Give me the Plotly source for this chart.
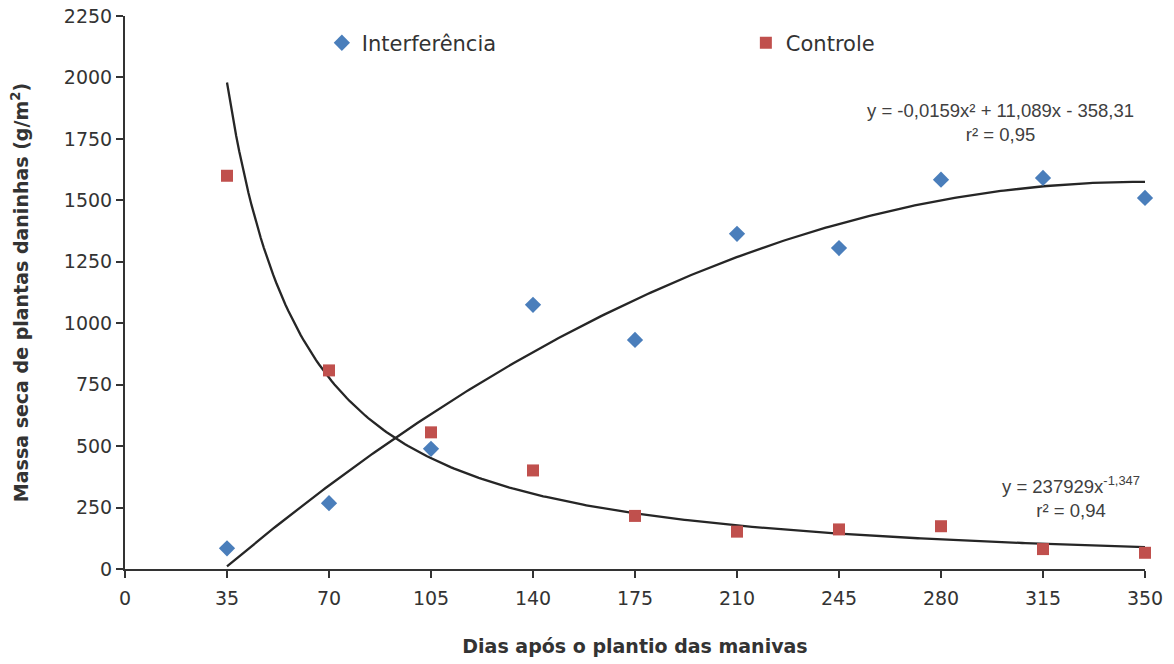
import numpy as np
import plotly.graph_objects as go

# Data
dias = [35, 70, 105, 140, 175, 210, 245, 280, 315, 350]
interferencia = [84, 268, 489, 1075, 932, 1364, 1306, 1584, 1591, 1510]
controle = [1600, 808, 556, 401, 216, 152, 161, 174, 81, 66]

# Trendline equations shown on the chart
quad_coef = [-0.0159, 11.089, -358.31]   # y = a x^2 + b x + c
pow_coef = [237929, -1.347]              # y = k x^p

x_tick_vals = [0, 35, 70, 105, 140, 175, 210, 245, 280, 315, 350]
y_tick_vals = [0, 250, 500, 750, 1000, 1250, 1500, 1750, 2000, 2250]

xfit = np.linspace(35, 350, 300)
yquad = quad_coef[0] * xfit**2 + quad_coef[1] * xfit + quad_coef[2]
ypow = pow_coef[0] * xfit**pow_coef[1]

fig = go.Figure()
fig.add_trace(go.Scatter(x=xfit, y=yquad, mode="lines", line=dict(color="#262626", width=2.3),
                         showlegend=False, hoverinfo="skip", cliponaxis=False))
fig.add_trace(go.Scatter(x=xfit, y=ypow, mode="lines", line=dict(color="#262626", width=2.3),
                         showlegend=False, hoverinfo="skip", cliponaxis=False))
fig.add_trace(go.Scatter(x=dias, y=interferencia, mode="markers", name="Interferência",
                         marker=dict(symbol="diamond", size=12.5, color="#4A7EBB"), cliponaxis=False))
fig.add_trace(go.Scatter(x=dias, y=controle, mode="markers", name="Controle",
                         marker=dict(symbol="square", size=12, color="#C0504D"), cliponaxis=False))

eq_font = dict(family="Liberation Sans, Arial, sans-serif", size=18.5, color="#404040")
annots = [
    dict(x=0.858, y=0.808, text="y = -0,0159x² + 11,089x - 358,31<br>r² = 0,95"),
    dict(x=0.927, y=0.130, text="y = 237929x<sup>-1,347</sup><br>r² = 0,94"),
]
for a in annots:
    fig.add_annotation(x=a["x"], y=a["y"], xref="paper", yref="paper", text=a["text"],
                       showarrow=False, font=eq_font, align="center", xanchor="center", yanchor="middle")

main_family = "DejaVu Sans, sans-serif"
axis_font = dict(family=main_family, size=19, color="#333333")
title_font = dict(family=main_family, size=19, color="#333333", weight="bold")
fig.update_layout(
    width=1174, height=664,
    margin=dict(l=125, r=29, t=16, b=95, autoexpand=False),
    paper_bgcolor="white", plot_bgcolor="white",
    font=dict(family=main_family, color="#333333"),
    legend=dict(orientation="h", x=0.193, y=0.951, xanchor="left", yanchor="middle",
                font=dict(family=main_family, size=21, color="#333333"),
                entrywidth=379, itemwidth=30, bgcolor="rgba(0,0,0,0)"),
    xaxis=dict(range=[0, 350], tickvals=x_tick_vals, ticks="outside", ticklen=7, tickwidth=2,
               tickcolor="#333333", showline=True, linecolor="#333333", linewidth=2,
               showgrid=False, zeroline=False, tickfont=axis_font, ticklabelstandoff=4,
               ticklabeloverflow="allow",
               title=dict(text="Dias após o plantio das manivas", standoff=32, font=title_font)),
    yaxis=dict(range=[0, 2250], tickvals=y_tick_vals, ticks="outside", ticklen=7, tickwidth=2,
               tickcolor="#333333", showline=True, linecolor="#333333", linewidth=2,
               showgrid=False, zeroline=False, tickfont=axis_font, ticklabeloverflow="allow",
               title=dict(text="Massa seca de plantas daninhas (g/m<sup>2</sup>)", standoff=30,
                          font=title_font)),
)

fig.write_html("out.html", config={"displayModeBar": False},
               post_script="document.body.style.margin='0';")
